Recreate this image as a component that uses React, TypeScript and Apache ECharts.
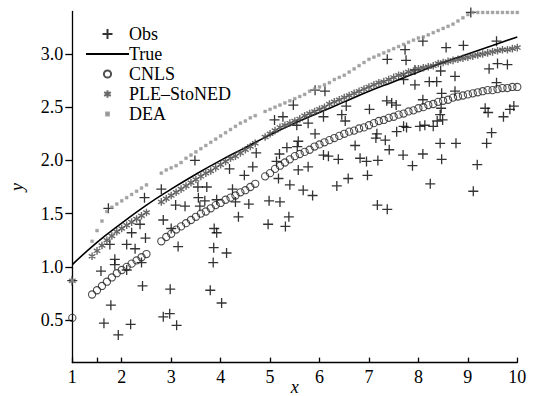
import React, { useEffect, useRef } from "react";
import * as echarts from "echarts";

const obsPoints: number[][] = [
  [1.0, 0.87], [1.58, 0.96], [1.64, 0.47], [1.73, 1.55], [1.76, 1.21], [1.78, 0.64], [1.86, 1.07], [1.86, 1.02],
  [1.93, 0.36], [2.1, 0.97], [2.1, 1.21], [2.18, 0.46], [2.2, 1.32], [2.27, 1.17], [2.37, 1.4], [2.4, 1.04],
  [2.42, 0.82], [2.46, 1.65], [2.48, 1.27], [2.8, 1.73], [2.84, 1.44], [2.84, 0.53], [2.97, 0.56], [2.98, 0.79],
  [3.0, 1.36], [3.09, 1.58], [3.11, 0.45], [3.14, 1.19], [3.28, 1.57], [3.48, 2.0], [3.54, 1.75], [3.55, 1.65],
  [3.58, 1.57], [3.68, 1.62], [3.72, 1.75], [3.79, 0.78], [3.85, 1.04], [3.86, 1.18], [3.87, 1.36], [3.92, 1.32],
  [3.92, 1.63], [4.02, 0.66], [4.12, 1.13], [4.18, 1.92], [4.24, 1.73], [4.3, 1.61], [4.36, 1.47], [4.48, 1.86],
  [4.57, 1.59], [4.65, 1.94], [4.72, 2.07], [4.96, 1.4], [4.98, 1.62], [5.09, 2.38], [5.13, 1.99], [5.17, 1.83],
  [5.19, 2.06], [5.2, 1.61], [5.26, 2.41], [5.31, 1.38], [5.34, 2.12], [5.38, 1.47], [5.4, 1.77], [5.47, 2.52],
  [5.54, 2.33], [5.55, 2.13], [5.57, 2.18], [5.57, 1.91], [5.67, 1.72], [5.77, 2.35], [5.77, 1.94], [5.86, 1.67],
  [5.91, 2.66], [5.91, 2.25], [6.08, 2.41], [6.08, 2.05], [6.11, 2.65], [6.18, 2.04], [6.35, 1.76], [6.38, 2.01],
  [6.45, 2.43], [6.52, 2.37], [6.54, 2.51], [6.58, 1.83], [6.72, 2.14], [6.82, 2.02], [6.95, 1.99], [6.97, 1.86],
  [7.01, 2.48], [7.14, 2.21], [7.16, 2.25], [7.17, 1.58], [7.18, 2.0], [7.33, 2.19], [7.36, 2.56], [7.37, 2.95],
  [7.37, 1.54], [7.41, 2.1], [7.46, 2.54], [7.55, 2.52], [7.56, 2.27], [7.69, 2.05], [7.7, 2.76], [7.7, 2.32],
  [7.73, 3.04], [7.75, 2.94], [7.76, 2.31], [7.88, 1.95], [7.93, 2.85], [7.93, 2.71], [8.03, 2.32], [8.09, 3.12],
  [8.09, 2.57], [8.09, 2.06], [8.13, 2.33], [8.22, 2.74], [8.24, 1.78], [8.3, 2.32], [8.37, 2.74], [8.38, 2.37],
  [8.44, 2.43], [8.44, 2.16], [8.45, 2.84], [8.46, 2.49], [8.47, 2.63], [8.47, 2.01], [8.49, 2.38], [8.56, 3.06],
  [8.74, 2.79], [8.74, 2.65], [8.76, 2.16], [8.91, 3.08], [9.06, 3.39], [9.11, 1.71], [9.19, 1.96], [9.35, 2.49],
  [9.38, 2.16], [9.41, 2.45], [9.43, 2.86], [9.48, 2.26], [9.58, 3.12], [9.58, 2.73], [9.6, 2.91], [9.72, 2.41],
  [9.8, 2.9], [9.85, 2.48], [9.93, 2.51],
];

// x positions of the fitted estimates
const fitX: number[] = [
  1.0,
  1.4, 1.5, 1.6, 1.7, 1.8, 1.9, 2.0, 2.1, 2.2, 2.3, 2.4, 2.5,
  2.8, 2.9, 3.0, 3.1, 3.2, 3.3, 3.4, 3.5, 3.6, 3.7, 3.8, 3.9, 4.0, 4.1, 4.2, 4.3, 4.4, 4.5, 4.6, 4.7,
  4.9, 5.0, 5.1, 5.2, 5.3, 5.4, 5.5, 5.6, 5.7, 5.8, 5.9,
  6.0, 6.1, 6.2, 6.3, 6.4, 6.5, 6.6, 6.7, 6.8, 6.9,
  7.0, 7.1, 7.2, 7.3, 7.4, 7.5, 7.6, 7.7, 7.8, 7.9,
  8.0, 8.1, 8.2, 8.3, 8.4, 8.5, 8.6, 8.7, 8.8, 8.9,
  9.0, 9.1, 9.2, 9.3, 9.4, 9.5, 9.6, 9.7, 9.8, 9.9,
  10.0,
];

const cnlsY: number[] = [
  0.52,
  0.74, 0.78, 0.82, 0.86, 0.9, 0.94, 0.97, 1.0, 1.03, 1.06, 1.09, 1.12,
  1.24, 1.28, 1.31, 1.35, 1.38, 1.41, 1.44, 1.47, 1.5, 1.52, 1.55, 1.58, 1.6, 1.63, 1.65, 1.67, 1.7, 1.72, 1.75, 1.78,
  1.85, 1.88, 1.92, 1.95, 1.98, 2.01, 2.04, 2.06, 2.08, 2.1, 2.13,
  2.15, 2.17, 2.19, 2.21, 2.23, 2.25, 2.27, 2.28, 2.3, 2.31,
  2.33, 2.35, 2.37, 2.38, 2.4, 2.41, 2.43, 2.44, 2.46, 2.47,
  2.49, 2.5, 2.52, 2.53, 2.55, 2.56, 2.57, 2.59, 2.6, 2.61,
  2.62, 2.63, 2.64, 2.65, 2.66, 2.66, 2.67, 2.68, 2.68, 2.69,
  2.69,
];

const pleY: number[] = [
  0.87,
  1.1, 1.15, 1.2, 1.25, 1.29, 1.33, 1.36, 1.39, 1.42, 1.45, 1.48, 1.51,
  1.61, 1.64, 1.67, 1.7, 1.73, 1.76, 1.79, 1.82, 1.85, 1.88, 1.9, 1.93, 1.96, 1.99, 2.02, 2.04, 2.07, 2.1, 2.13, 2.16,
  2.22, 2.25, 2.28, 2.31, 2.33, 2.35, 2.37, 2.39, 2.42, 2.44, 2.46,
  2.48, 2.5, 2.53, 2.55, 2.57, 2.59, 2.61, 2.63, 2.65, 2.67,
  2.69, 2.71, 2.73, 2.74, 2.76, 2.78, 2.8, 2.81, 2.83, 2.84,
  2.86, 2.87, 2.88, 2.89, 2.91, 2.92, 2.93, 2.94, 2.95, 2.96,
  2.97, 2.98, 2.99, 3.0, 3.01, 3.02, 3.03, 3.04, 3.04, 3.05,
  3.06,
];

const deaY: number[] = [
  0.87,
  1.24, 1.34, 1.43, 1.52, 1.56, 1.59, 1.62, 1.65, 1.68, 1.71, 1.74, 1.77,
  1.88, 1.91, 1.93, 1.95, 1.98, 2.02, 2.05, 2.08, 2.11, 2.14, 2.17, 2.2, 2.23, 2.26, 2.29, 2.32, 2.35, 2.37, 2.4, 2.42,
  2.46, 2.48, 2.5, 2.52, 2.54, 2.56, 2.58, 2.6, 2.62, 2.65, 2.67,
  2.69, 2.71, 2.73, 2.76, 2.78, 2.8, 2.83, 2.86, 2.89, 2.92,
  2.95, 2.97, 2.99, 3.01, 3.03, 3.05, 3.07, 3.09, 3.11, 3.13,
  3.15, 3.16, 3.18, 3.2, 3.22, 3.24, 3.26, 3.28, 3.31, 3.34,
  3.37, 3.39, 3.39, 3.39, 3.39, 3.39, 3.39, 3.39, 3.39, 3.39,
  3.39,
];

const trueX: number[] = [1, 1.5, 2, 2.5, 3, 3.5, 4, 4.5, 5, 5.5, 6, 6.5, 7, 7.5, 8, 8.5, 9, 9.5, 10];
const trueY: number[] = [1.02, 1.23, 1.41, 1.58, 1.73, 1.87, 2.0, 2.12, 2.24, 2.35, 2.45, 2.55, 2.65, 2.74, 2.83, 2.92, 3.0, 3.08, 3.16];

const xTickValues: number[] = [1, 1.5, 2, 3, 4, 5, 6, 7, 8, 9, 10];
const xLabelValues: number[] = [1, 2, 3, 4, 5, 6, 7, 8, 9, 10];
const yTickValues: number[] = [0.5, 1.0, 1.5, 2.0, 2.5, 3.0];

const seriesNames = ["Obs", "True", "CNLS", "PLE\u2013StoNED", "DEA"];

const PLUS = "path://M5,0L5,10M0,5L10,5";
const RING = "path://M0,0M10,10M8.6,5A3.6,3.6,0,1,1,1.4,5A3.6,3.6,0,1,1,8.6,5Z";
const STAR = "path://M0,0M10,10M5,1.2L5,8.8M1.7,3.1L8.3,6.9M1.7,6.9L8.3,3.1";
const DOT = "path://M0,0M10,10M3.6,3.6L6.4,3.6L6.4,6.4L3.6,6.4Z";

const FONT = "'Liberation Serif', 'Times New Roman', serif";

export default function App() {
  const ref = useRef<HTMLDivElement>(null);
  useEffect(() => {
    if (!ref.current) return;
    const chart = echarts.init(ref.current, undefined, { renderer: "svg" });
    const pair = (ys: number[]) => fitX.map((x, i) => [x, ys[i]]);
    chart.setOption({
      animation: false,
      backgroundColor: "#fff",
      textStyle: { fontFamily: FONT },
      grid: {
        left: 72.3,
        right: 15.7,
        top: 11.4,
        bottom: 33.4,
        containLabel: false,
        outerBoundsMode: "none",
      },
      legend: {
        orient: "vertical",
        left: 80,
        top: 20,
        itemWidth: 43,
        itemHeight: 10,
        itemGap: 2,
        selectedMode: false,
        textStyle: { fontFamily: FONT, fontSize: 18, color: "#000", lineHeight: 18, padding: [0, 0, 0, -5] },
        data: [
          { name: seriesNames[0], icon: PLUS },
          {
            name: seriesNames[1],
            itemStyle: { color: "rgba(0,0,0,0)", borderColor: "rgba(0,0,0,0)", borderWidth: 0, opacity: 0 },
          },
          { name: seriesNames[2], icon: RING },
          { name: seriesNames[3], icon: STAR },
          { name: seriesNames[4], icon: DOT },
        ],
      },
      xAxis: {
        type: "value",
        min: 1,
        max: 10,
        interval: 1,
        name: "x",
        nameLocation: "middle",
        nameGap: 15,
        nameMoveOverlap: false,
        nameTextStyle: { fontFamily: FONT, fontStyle: "italic", fontSize: 18, color: "#000", verticalAlign: "top" },
        axisLine: { lineStyle: { color: "#000", width: 1.3 } },
        axisTick: { inside: true, length: 5, lineStyle: { color: "#000", width: 1.3 }, customValues: xTickValues },
        axisLabel: { fontFamily: FONT, fontSize: 18, color: "#000", margin: 5, customValues: xLabelValues },
        splitLine: { show: false },
      },
      yAxis: {
        type: "value",
        min: 0.1,
        max: 3.4,
        name: "y",
        nameLocation: "middle",
        nameRotate: 90,
        nameGap: 46,
        nameTextStyle: { fontFamily: FONT, fontStyle: "italic", fontSize: 18, color: "#000" },
        axisLine: { lineStyle: { color: "#000", width: 1.3 } },
        axisTick: { inside: false, length: 7, lineStyle: { color: "#000", width: 1.3 }, customValues: yTickValues },
        axisLabel: {
          fontFamily: FONT,
          fontSize: 18,
          color: "#000",
          margin: 9,
          customValues: yTickValues,
          formatter: (v: number) => v.toFixed(1),
        },
        splitLine: { show: false },
      },
      series: [
        {
          name: seriesNames[0],
          type: "scatter",
          data: obsPoints,
          symbol: PLUS,
          symbolSize: 10,
          itemStyle: { color: "#000", borderColor: "#000", borderWidth: 1.3 },
          z: 2,
        },
        {
          name: seriesNames[1],
          type: "line",
          data: trueX.map((x, i) => [x, trueY[i]]),
          smooth: true,
          symbol: "none",
          itemStyle: { color: "#000" },
          lineStyle: { color: "#000", width: 1.6 },
          z: 3,
        },
        {
          name: seriesNames[2],
          type: "scatter",
          data: pair(cnlsY),
          symbol: RING,
          symbolSize: 10,
          itemStyle: { color: "rgba(0,0,0,0)", borderColor: "#222", borderWidth: 1.1 },
          z: 4,
        },
        {
          name: seriesNames[3],
          type: "scatter",
          data: pair(pleY),
          symbol: STAR,
          symbolSize: 10,
          itemStyle: { color: "#444", borderColor: "#444", borderWidth: 1.4 },
          z: 5,
        },
        {
          name: seriesNames[4],
          type: "scatter",
          data: pair(deaY),
          symbol: DOT,
          symbolSize: 10,
          itemStyle: { color: "#8f8f8f", borderColor: "#8f8f8f", borderWidth: 0.5 },
          z: 6,
        },
      ],
    });
    return () => chart.dispose();
  }, []);
  return (
    <div
      ref={ref}
      style={{ position: "fixed", left: 0, top: 0, width: 533, height: 396, background: "#fff" }}
    />
  );
}
